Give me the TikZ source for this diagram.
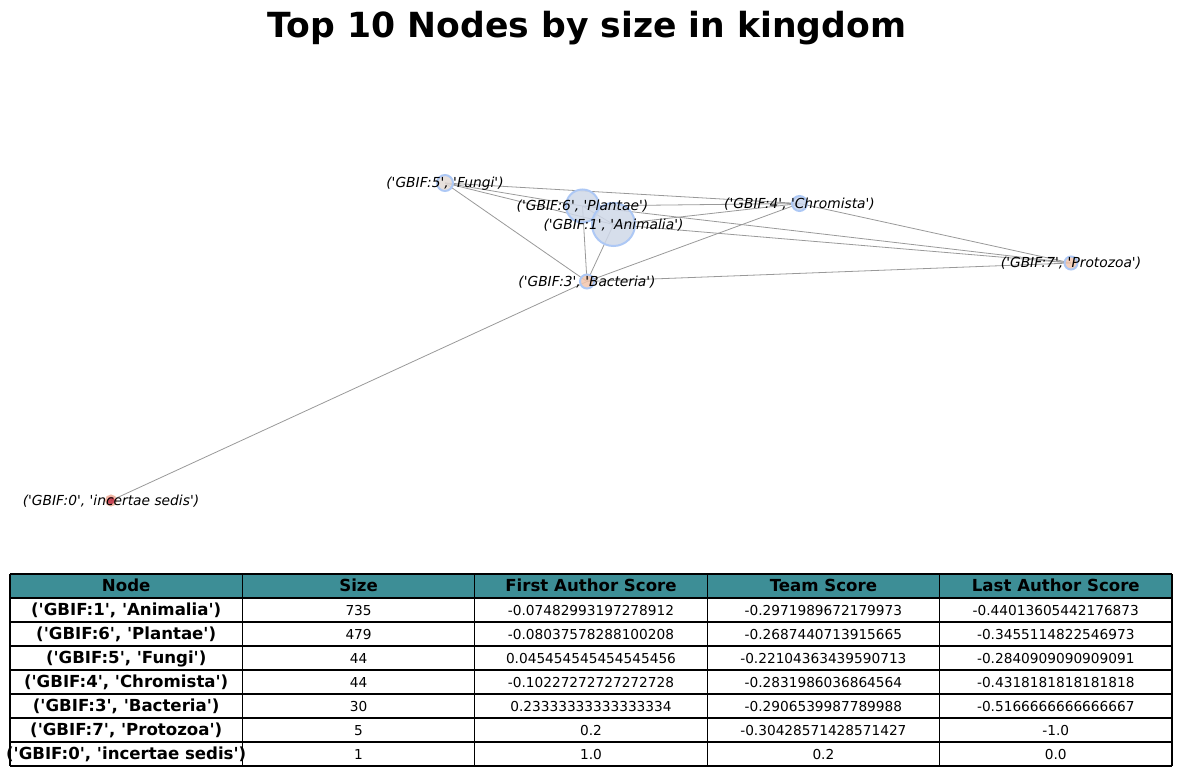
\documentclass[tikz,border=0pt]{standalone}
\usepackage{fontspec}
\setmainfont{DejaVu Sans}[Ligatures=TeXOff]
\definecolor{nborder}{RGB}{173,200,245}
\definecolor{cAnim}{RGB}{207,216,232}
\definecolor{cPlan}{RGB}{207,216,232}
\definecolor{cFung}{RGB}{227,218,214}
\definecolor{cChro}{RGB}{201,214,238}
\definecolor{cBact}{RGB}{243,198,173}
\definecolor{cProt}{RGB}{242,199,176}
\definecolor{cInce}{RGB}{192,40,59}
\definecolor{bInce}{RGB}{241,185,166}
\definecolor{hdr}{RGB}{61,142,150}
\begin{document}
\begin{tikzpicture}[x=1pt,y=-1pt,
  edge/.style={draw=black!40, line width=0.8pt},
  gnode/.style={circle, inner sep=0pt, line width=2pt, draw=nborder, fill opacity=0.85},
  glabel/.style={font=\fontsize{13.8}{16}\selectfont\itshape, inner sep=0pt, text height=.73em, text depth=0pt, yshift=-1pt},
  bcell/.style={font=\fontsize{16.6}{18}\selectfont\bfseries, inner sep=0pt, text height=.73em, text depth=0pt, yshift=-1.5pt},
  ncell/.style={font=\fontsize{13.7}{16}\selectfont, inner sep=0pt, text height=.73em, text depth=0pt, yshift=-1.5pt},
  grid/.style={draw=black, line width=1.1pt}]
\useasboundingbox (0,0) rectangle (1181,776);

% title
\node[font=\fontsize{34.6}{40}\selectfont\bfseries, anchor=base, inner sep=0pt] (title) at (587,38) {Top 10 Nodes by size in kingdom};

% node positions
\coordinate (c1) at (613.5,224.5);
\coordinate (c6) at (582.5,206);
\coordinate (c5) at (445,183);
\coordinate (c4) at (799.5,203.5);
\coordinate (c3) at (587,281.5);
\coordinate (c7) at (1071,263);
\coordinate (c0) at (111,500.5);

% edges
\draw[edge] (c5) -- (c6);
\draw[edge] (c5) -- (c1);
\draw[edge] (c5) -- (c4);
\draw[edge] (c5) -- (c3);
\draw[edge] (c6) -- (c4);
\draw[edge] (c6) -- (c7);
\draw[edge] (c6) -- (c3);
\draw[edge] (c6) -- (c1);
\draw[edge] (c1) -- (c4);
\draw[edge] (c1) -- (c7);
\draw[edge] (c1) -- (c3);
\draw[edge] (c4) -- (c3);
\draw[edge] (c4) -- (c7);
\draw[edge] (c3) -- (c7);
\draw[edge] (c3) -- (c0);

% nodes
\node[gnode, minimum size=33pt, fill=cPlan] (n6) at (c6) {};
\node[gnode, minimum size=43pt, fill=cAnim] (n1) at (c1) {};
\node[gnode, minimum size=16pt, fill=cFung] (n5) at (c5) {};
\node[gnode, minimum size=15pt, fill=cChro] (n4) at (c4) {};
\node[gnode, minimum size=14pt, fill=cBact] (n3) at (c3) {};
\node[gnode, minimum size=13pt, fill=cProt] (n7) at (c7) {};
\node[gnode, minimum size=10pt, fill=cInce, draw=bInce] (n0) at (c0) {};

% labels
\node[glabel] (l5) at (c5) {('GBIF:5', 'Fungi')};
\node[glabel] (l6) at (c6) {('GBIF:6', 'Plantae')};
\node[glabel] (l1) at (c1) {('GBIF:1', 'Animalia')};
\node[glabel] (l4) at (c4) {('GBIF:4', 'Chromista')};
\node[glabel] (l3) at (c3) {('GBIF:3', 'Bacteria')};
\node[glabel] (l7) at (c7) {('GBIF:7', 'Protozoa')};
\node[glabel] (l0) at (c0) {('GBIF:0', 'incertae sedis')};

% table
\fill[hdr] (10,574) rectangle (1172,598);
\foreach \yy in {574,598,622,646,670,694,718,742,766} {\draw[grid] (10,\yy) -- (1172,\yy);}
\foreach \xx in {10,242.4,474.8,707.2,939.6,1172} {\draw[grid] (\xx,574) -- (\xx,766);}

\node[bcell] (h1) at (126.2,586) {Node};
\node[bcell] (h2) at (358.6,586) {Size};
\node[bcell] (h3) at (591,586) {First Author Score};
\node[bcell] (h4) at (823.4,586) {Team Score};
\node[bcell] (h5) at (1055.8,586) {Last Author Score};

\newcommand\mytabrow[7]{%
  \node[bcell] (r#1c1) at (126.2,#2) {#3};
  \node[ncell] (r#1c2) at (358.6,#2) {#4};
  \node[ncell] (r#1c3) at (591,#2) {#5};
  \node[ncell] (r#1c4) at (823.4,#2) {#6};
  \node[ncell] (r#1c5) at (1055.8,#2) {#7};}
\mytabrow{1}{610}{('GBIF:1', 'Animalia')}{735}{-0.07482993197278912}{-0.2971989672179973}{-0.44013605442176873}
\mytabrow{2}{634}{('GBIF:6', 'Plantae')}{479}{-0.08037578288100208}{-0.2687440713915665}{-0.3455114822546973}
\mytabrow{3}{658}{('GBIF:5', 'Fungi')}{44}{0.045454545454545456}{-0.22104363439590713}{-0.2840909090909091}
\mytabrow{4}{682}{('GBIF:4', 'Chromista')}{44}{-0.10227272727272728}{-0.2831986036864564}{-0.4318181818181818}
\mytabrow{5}{706}{('GBIF:3', 'Bacteria')}{30}{0.23333333333333334}{-0.2906539987789988}{-0.5166666666666667}
\mytabrow{6}{730}{('GBIF:7', 'Protozoa')}{5}{0.2}{-0.30428571428571427}{-1.0}
\mytabrow{7}{754}{('GBIF:0', 'incertae sedis')}{1}{1.0}{0.2}{0.0}
\end{tikzpicture}
\end{document}
